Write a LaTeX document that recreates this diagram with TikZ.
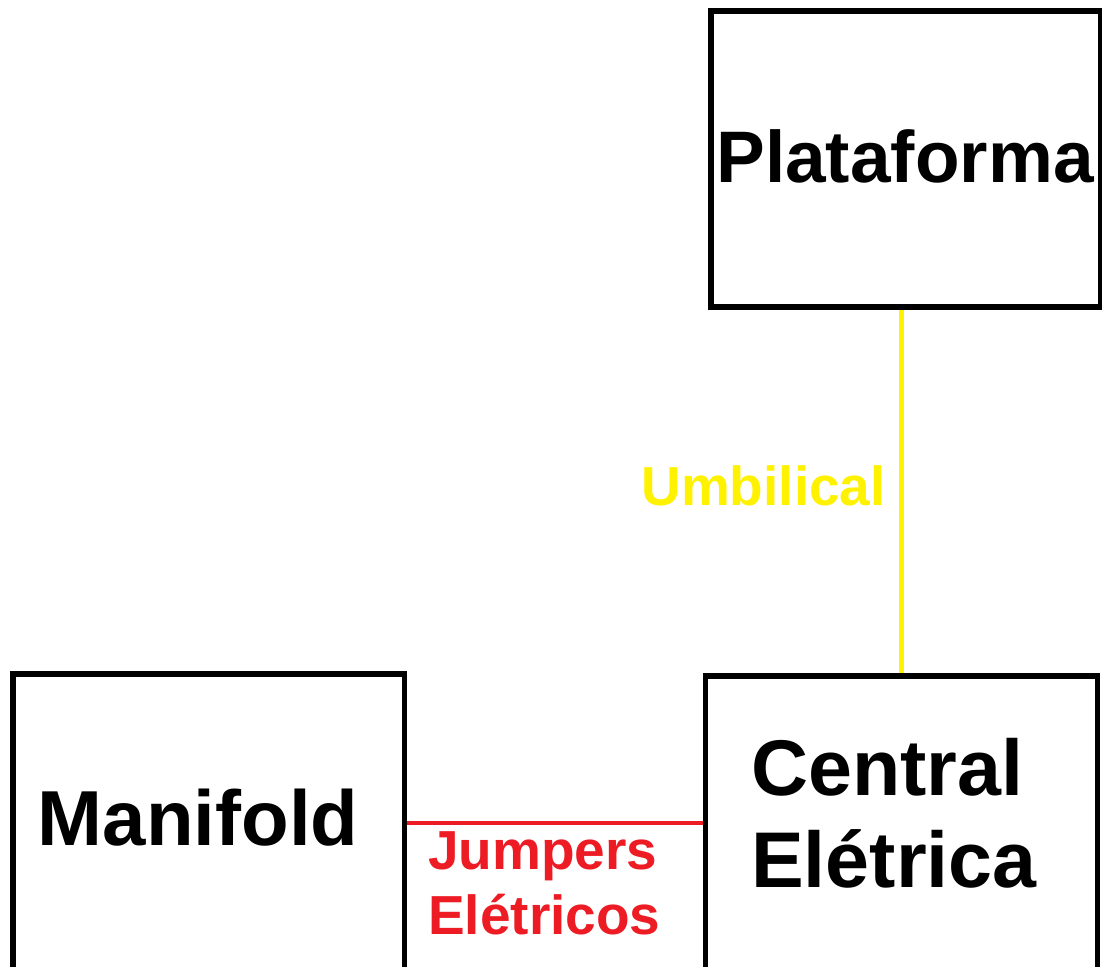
\documentclass[tikz,border=0pt]{standalone}
\usepackage{fontspec}
\setmainfont{Liberation Sans}
\definecolor{umbyellow}{HTML}{FFF200}
\definecolor{jumpred}{HTML}{ED1C24}
\begin{document}
\begin{tikzpicture}[x=1pt,y=-1pt,
  box/.style={draw=black,line width=5.5pt,rectangle,inner sep=0pt,fill=none},
  boxtext/.style={inner sep=0pt,font=\bfseries\fontsize{#1}{92}\selectfont},
  lbl/.style={inner sep=0pt,font=\bfseries\fontsize{55}{65}\selectfont}]
\useasboundingbox (0,0) rectangle (1102,966);
\clip (0,0) rectangle (1102,966);
\fill[white] (0,0) rectangle (1102,966);
% boxes
\node[box,minimum width=389.5pt,minimum height=296pt] (plat) at (905.75,159) {};
\node[box,minimum width=391.5pt,minimum height=298pt] (manifold) at (208.75,823) {};
\node[box,minimum width=392pt,minimum height=294pt] (central) at (901.5,823) {};
% box texts
\node[boxtext=73,anchor=base] (plattext) at (905,182) {Plataforma};
\node[boxtext=78,anchor=base] (mantext) at (198,845) {Manifold};
\node[boxtext=79,anchor=north west,align=left] (centtext) at (751,738) {Central\\Elétrica};
% connectors
\draw[umbyellow,line width=5pt] (central.north) -- (central.north |- plat.south);
\draw[jumpred,line width=4.5pt] (manifold.east) -- (central.west);
% connector labels
\node[lbl,text=umbyellow,anchor=base east] (umb) at (886,505) {Umbilical};
\node[lbl,text=jumpred,anchor=north west,align=left] (jump) at (428,831) {Jumpers\\Elétricos};
\end{tikzpicture}
\end{document}
